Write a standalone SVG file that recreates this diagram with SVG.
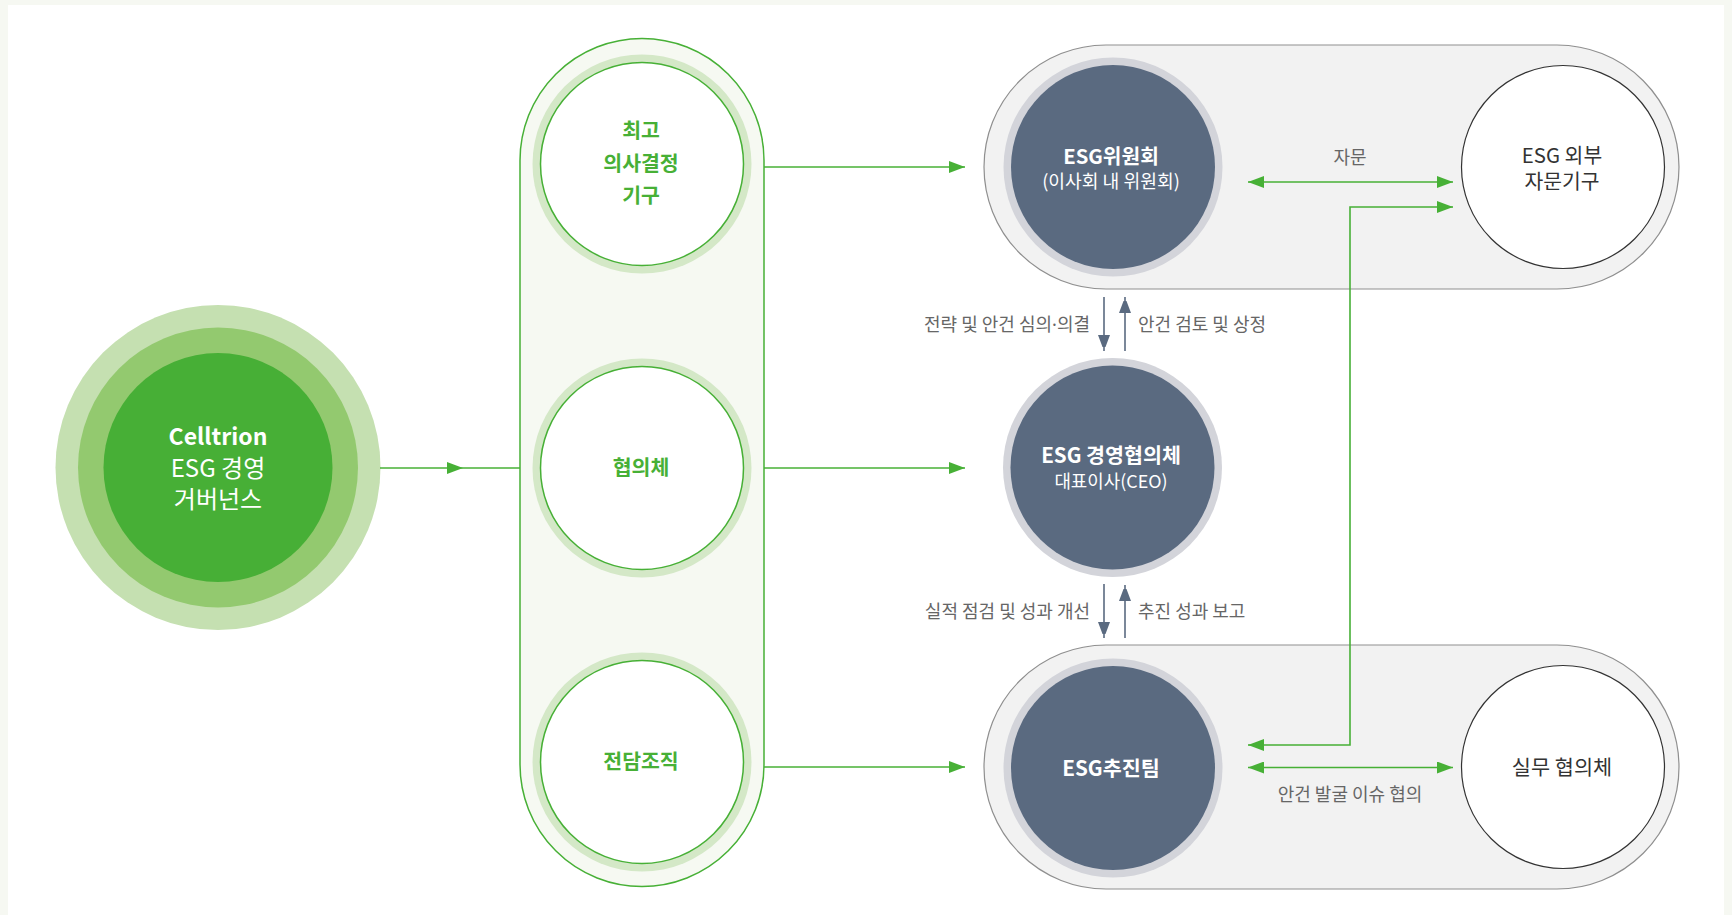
<svg xmlns="http://www.w3.org/2000/svg" width="1732" height="915" viewBox="0 0 1732 915">
<defs>
<style>
.t{font-family:"Noto Sans CJK KR","Noto Sans",sans-serif;text-anchor:middle}
.b{font-weight:bold}
.w{fill:#ffffff}
.g{fill:#47b036}
.lbl{fill:#666666;font-size:18px}
.dk{fill:#333333}
.dot{font-family:"Noto Sans","DejaVu Sans",sans-serif}
.gl{stroke:#47b036;stroke-width:1.6;fill:none}
.sl{stroke:#5a6a80;stroke-width:1.6;fill:none}
.pill{fill:#f2f2f2;stroke:#8f8f8f;stroke-width:1.2}
.ring{fill:#d4e8c7}
.wc{fill:#ffffff;stroke:#47b036;stroke-width:1.5}
.dring{fill:#d3d4da}
.dc{fill:#5a6a80}
</style>
<marker id="ga" markerUnits="userSpaceOnUse" markerWidth="16" markerHeight="12" refX="16" refY="6" orient="auto-start-reverse"><path d="M0,0 L16,6 L0,12 z" fill="#47b036"/></marker>
<marker id="sa" markerUnits="userSpaceOnUse" markerWidth="12" markerHeight="16" refX="16" refY="6" orient="auto"><path d="M0,0 L16,6 L0,12 z" fill="#5a6a80"/></marker>
</defs>
<rect x="0" y="0" width="1732" height="915" fill="#f6f8f2"/>
<rect x="8" y="5" width="1716" height="910" fill="#ffffff"/>

<g id="governance">
<circle cx="218" cy="467.5" r="162.5" fill="#c5e0b1"/>
<circle cx="218" cy="467.5" r="140" fill="#93c96f"/>
<circle cx="218" cy="467.5" r="114.5" fill="#47af36"/>
<text class="t w b" x="218" y="445" font-size="23">Celltrion</text>
<text class="t w" x="218" y="477" font-size="24">ESG 경영</text>
<text class="t w" x="218" y="508" font-size="24">거버넌스</text>
</g>

<g id="green-pill">
<rect x="520" y="38.5" width="244" height="848" rx="122" ry="122" fill="#f6f9f2" stroke="#47b036" stroke-width="1.5"/>
</g>

<g id="top-decision">
<circle class="ring" cx="642" cy="164" r="109.5"/>
<circle class="wc" cx="642" cy="164" r="101.5"/>
<text class="t g b" x="641" y="138" font-size="20.5">최고</text>
<text class="t g b" x="641" y="171" font-size="20.5">의사결정</text>
<text class="t g b" x="641" y="203" font-size="20.5">기구</text>
</g>

<g id="council">
<circle class="ring" cx="642" cy="468" r="109.5"/>
<circle class="wc" cx="642" cy="468" r="101.5"/>
<text class="t g b" x="641" y="475" font-size="20.5">협의체</text>
</g>

<g id="dedicated-org">
<circle class="ring" cx="642" cy="762" r="109.5"/>
<circle class="wc" cx="642" cy="762" r="101.5"/>
<text class="t g b" x="641" y="769" font-size="20.5">전담조직</text>
</g>

<g id="top-pill">
<rect class="pill" x="984" y="45" width="695" height="244" rx="122" ry="122"/>
</g>
<g id="bottom-pill">
<rect class="pill" x="984" y="645" width="695" height="244" rx="122" ry="122"/>
</g>

<g id="esg-committee">
<circle class="dring" cx="1113" cy="167" r="109.5"/>
<circle class="dc" cx="1113" cy="167" r="102"/>
<text class="t w b" x="1111" y="164" font-size="20.3">ESG위원회</text>
<text class="t w" x="1111" y="188" font-size="18.2">(이사회 내 위원회)</text>
</g>

<g id="external-advisory">
<circle cx="1563" cy="167" r="101.5" fill="#ffffff" stroke="#333333" stroke-width="1.2"/>
<text class="t dk" x="1562" y="163" font-size="20.4">ESG 외부</text>
<text class="t dk" x="1562" y="188.5" font-size="20.4">자문기구</text>
</g>

<g id="esg-management-council">
<circle class="dring" cx="1112.5" cy="467.5" r="109.5"/>
<circle class="dc" cx="1112.5" cy="467.5" r="102"/>
<text class="t w b" x="1111" y="463" font-size="20.6">ESG 경영협의체</text>
<text class="t w" x="1111" y="488" font-size="17.9">대표이사(CEO)</text>
</g>

<g id="esg-team">
<circle class="dring" cx="1113" cy="768" r="109.5"/>
<circle class="dc" cx="1113" cy="768" r="102"/>
<text class="t w b" x="1111" y="776" font-size="20.7">ESG추진팀</text>
</g>

<g id="working-council">
<circle cx="1563" cy="767" r="101.5" fill="#ffffff" stroke="#333333" stroke-width="1.2"/>
<text class="t dk" x="1562" y="775" font-size="20.8">실무 협의체</text>
</g>

<g id="connectors">
<path class="gl" d="M380,468 H463" marker-end="url(#ga)"/>
<path class="gl" d="M463,468 H520"/>
<path class="gl" d="M764,167 H965" marker-end="url(#ga)"/>
<path class="gl" d="M764,468 H965" marker-end="url(#ga)"/>
<path class="gl" d="M764,767 H965" marker-end="url(#ga)"/>
<path class="gl" d="M1248,182 H1453" marker-start="url(#ga)" marker-end="url(#ga)"/>
<path class="gl" d="M1248,745 H1350 V207 H1453" marker-start="url(#ga)" marker-end="url(#ga)"/>
<path class="gl" d="M1248,767.5 H1453" marker-start="url(#ga)" marker-end="url(#ga)"/>
<path class="sl" d="M1104,297 V351" marker-end="url(#sa)"/>
<path class="sl" d="M1125,351 V297" marker-end="url(#sa)"/>
<path class="sl" d="M1104,584 V638" marker-end="url(#sa)"/>
<path class="sl" d="M1125,638 V585" marker-end="url(#sa)"/>
<text class="t lbl" x="1350" y="164">자문</text>
<text class="t lbl" x="1350" y="801">안건 발굴 이슈 협의</text>
<text class="t lbl" x="1090" y="331" style="text-anchor:end">전략 및 안건 심의<tspan class="dot">·</tspan>의결</text>
<text class="t lbl" x="1138" y="331" style="text-anchor:start">안건 검토 및 상정</text>
<text class="t lbl" x="1090" y="618" style="text-anchor:end">실적 점검 및 성과 개선</text>
<text class="t lbl" x="1138" y="618" style="text-anchor:start">추진 성과 보고</text>
</g>
</svg>
